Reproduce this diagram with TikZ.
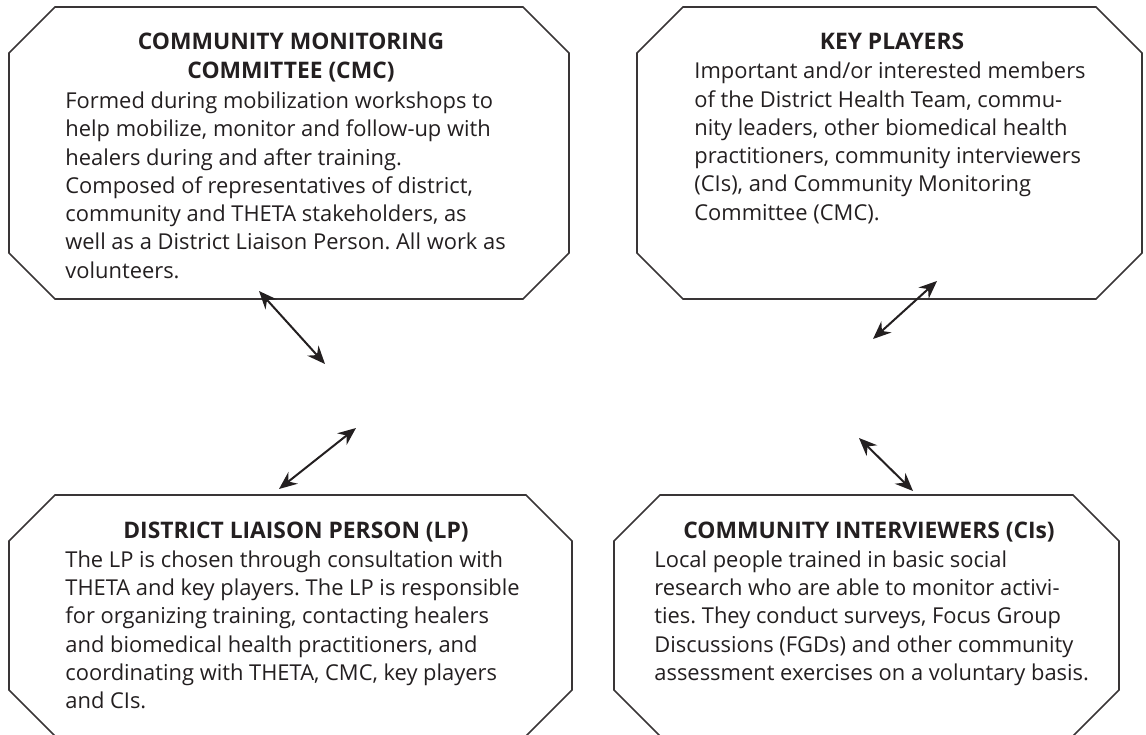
\documentclass[tikz,border=0pt]{standalone}
\usepackage{fontspec}
\setmainfont{Open Sans}
\usetikzlibrary{arrows.meta}
\definecolor{ink}{HTML}{231F20}
\newcommand\fr{\rule{0pt}{10pt}}
\newcommand\octo[1]{%
  \draw[octline] ([xshift=23pt]#1.north west) -- ([xshift=-23pt]#1.north east)
    -- ([yshift=-23pt]#1.north east) -- ([yshift=23pt]#1.south east)
    -- ([xshift=-23pt]#1.south east) -- ([xshift=23pt]#1.south west)
    -- ([yshift=23pt]#1.south west) -- ([yshift=-23pt]#1.north west) -- cycle;}
\begin{document}
\frenchspacing
\begin{tikzpicture}[x=0.5pt,y=-0.5pt,
  octbox/.style={rectangle, draw=none, inner sep=0pt, outer sep=0pt},
  octline/.style={draw=ink!90, line width=0.8pt, line join=miter},
  ttl/.style={font=\fontsize{11.4}{14.5}\selectfont\bfseries, text=ink, align=center, inner sep=0pt, anchor=north},
  body/.style={font=\fontsize{10.95}{14.15}\selectfont, text=ink, align=left, inner sep=0pt, anchor=north west},
  tip/.style={Stealth[length=9pt,width=7.5pt,inset=3pt]},
  dbl/.style={{Stealth[length=9pt,width=7.5pt,inset=3pt]}-{Stealth[length=9pt,width=7.5pt,inset=3pt]}, line width=1pt, draw=ink}]
\useasboundingbox (0,0) rectangle (1146,734);
\clip (0,0) rectangle (1146,734);

% boxes
\node[octbox, minimum width=280pt, minimum height=146pt] (cmc) at (289,153) {};
\node[octbox, minimum width=252.5pt, minimum height=146pt] (kp) at (889.5,153) {};
\node[octbox, minimum width=281.5pt, minimum height=120.5pt] (lp) at (290.5,615.5) {};
\node[octbox, minimum width=252.5pt, minimum height=120.5pt] (ci) at (866.5,615.5) {};
\octo{cmc}
\octo{kp}
\octo{lp}
\octo{ci}

% texts
\node[ttl] (cmct) at (291,29.3) {\fr COMMUNITY MONITORING\\COMMITTEE (CMC)};
\node[body] (cmcb) at (65,88) {\fr Formed during mobilization workshops to\\
help mobilize, monitor and follow-up with\\
healers during and after training.\\
Composed of representatives of district,\\
community and THETA stakeholders, as\\
well as a District Liaison Person. All work as\\
volunteers.};

\node[ttl] (kpt) at (892,29.3) {\fr KEY PLAYERS};
\node[body] (kpb) at (694,58.3) {\fr Important and/or interested members\\
of the District Health Team, commu-\\
nity leaders, other biomedical health\\
practitioners, community interviewers\\
(CIs), and Community Monitoring\\
Committee (CMC).};

\node[ttl] (lpt) at (296,517.7) {\fr DISTRICT LIAISON PERSON (LP)};
\node[body] (lpb) at (65,546.7) {\fr The LP is chosen through consultation with\\
THETA and key players. The LP is responsible\\
for organizing training, contacting healers\\
and biomedical health practitioners, and\\
coordinating with THETA, CMC, key players\\
and CIs.};

\node[ttl] (cit) at (869,517.7) {\fr COMMUNITY INTERVIEWERS (CIs)};
\node[body] (cib) at (654,546.7) {\fr Local people trained in basic social\\
research who are able to monitor activi-\\
ties. They conduct surveys, Focus Group\\
Discussions (FGDs) and other community\\
assessment exercises on a voluntary basis.};

% connectors
\coordinate (a1) at (259,291);
\coordinate (b1) at (325,364);
\coordinate (a2) at (937,281);
\coordinate (b2) at (873,339);
\coordinate (a3) at (356,428);
\coordinate (b3) at (279,489);
\coordinate (a4) at (859,438);
\coordinate (b4) at (913,491);
\draw[dbl] (a1) -- (b1);
\draw[dbl] (a2) -- (b2);
\draw[dbl] (a3) -- (b3);
\draw[dbl] (a4) -- (b4);
\end{tikzpicture}
\end{document}
